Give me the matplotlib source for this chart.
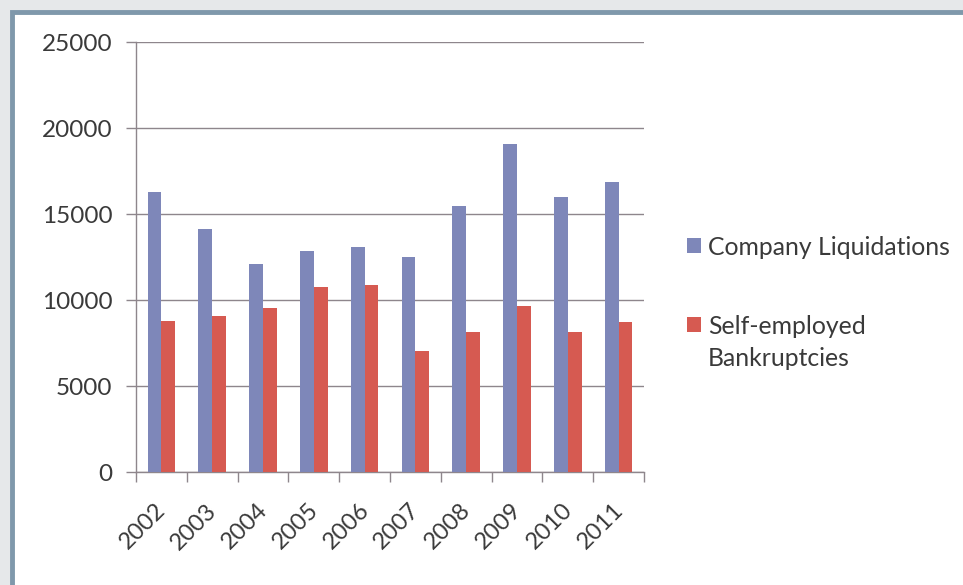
import matplotlib
matplotlib.use("Agg")
import matplotlib.pyplot as plt
import matplotlib.transforms as mtransforms
from matplotlib.patches import Rectangle
import numpy as np

years = ["2002", "2003", "2004", "2005", "2006", "2007", "2008", "2009", "2010", "2011"]
company_liquidations = [16300, 14150, 12130, 12870, 13080, 12500, 15500, 19070, 16020, 16900]
self_employed_bankruptcies = [8780, 9090, 9530, 10790, 10870, 7030, 8140, 9690, 8140, 8720]
y_ticks = [0, 5000, 10000, 15000, 20000, 25000]
series_names = ["Company Liquidations", "Self-employed\nBankruptcies"]

plt.rcParams['font.family'] = ['Lato', 'DejaVu Sans']
TXT = "#3a3a3a"
BLUE = "#7e87b9"
RED = "#d65a51"
GRID = "#8e868c"

W, H = 963, 585
fig = plt.figure(figsize=(W / 100, H / 100), dpi=100)
fig.patch.set_facecolor("#e6e8ea")
# frame
frame = Rectangle((12 / W, -0.5), 2, 1.5 - 12 / H, transform=fig.transFigure,
                  facecolor="white", edgecolor="#7f98ab", linewidth=3.5, zorder=-10)
fig.add_artist(frame)

ax = fig.add_axes([136 / W, 1 - 472.3 / H, 508 / W, 430 / H])
ax.set_zorder(5)
ax.set_facecolor("none")
x = np.arange(len(years))
w = 0.27
ax.bar(x - w / 2, company_liquidations, w, color=BLUE, label=series_names[0], zorder=3)
ax.bar(x + w / 2, self_employed_bankruptcies, w, color=RED, label=series_names[1], zorder=3)

ax.set_xlim(-0.5, len(years) - 0.5)
ax.set_ylim(0, 25000)
ax.set_yticks(y_ticks)
ax.set_yticklabels([str(v) for v in y_ticks], fontsize=17.5, color=TXT)
ax.yaxis.grid(True, color=GRID, linewidth=1.0, zorder=0)
ax.tick_params(axis='y', length=7, color=GRID, width=1, pad=10)

ax.set_xticks(np.arange(-0.5, len(years), 1.0))
ax.set_xticklabels([])
ax.tick_params(axis='x', which='major', length=7, color=GRID, width=1)
ax.set_xticks(x, minor=True)
ax.set_xticklabels(years, minor=True, rotation=45, ha='right', va='center',
                   rotation_mode='anchor', fontsize=17, color=TXT)
ax.tick_params(axis='x', which='minor', length=0, pad=25)
offset = mtransforms.ScaledTranslation(1 / 100, 0, fig.dpi_scale_trans)
for lab in ax.xaxis.get_minorticklabels():
    lab.set_transform(lab.get_transform() + offset)

for s in ['top', 'right']:
    ax.spines[s].set_visible(False)
for s in ['left', 'bottom']:
    ax.spines[s].set_color(GRID)
    ax.spines[s].set_linewidth(1.0)

# legend (manual, to keep the marker aligned with the first text line as in the reference)
def px(xp, yp):
    return xp / W, 1 - yp / H

legend_rows = [(series_names[0], BLUE, 245), (series_names[1], RED, 324)]
for name, col, yc in legend_rows:
    x0, y0 = px(687, yc + 8)
    fig.add_artist(Rectangle((x0, y0), 14 / W, 15 / H, transform=fig.transFigure,
                             facecolor=col, edgecolor='none', zorder=10))
    lines = name.split("\n")
    for i, line in enumerate(lines):
        tx, ty = px(708, yc + i * 32)
        fig.text(tx, ty, line, fontsize=17.8, color=TXT, ha='left', va='center_baseline', zorder=10)

fig.savefig("out.png", dpi=100, facecolor=fig.get_facecolor())
